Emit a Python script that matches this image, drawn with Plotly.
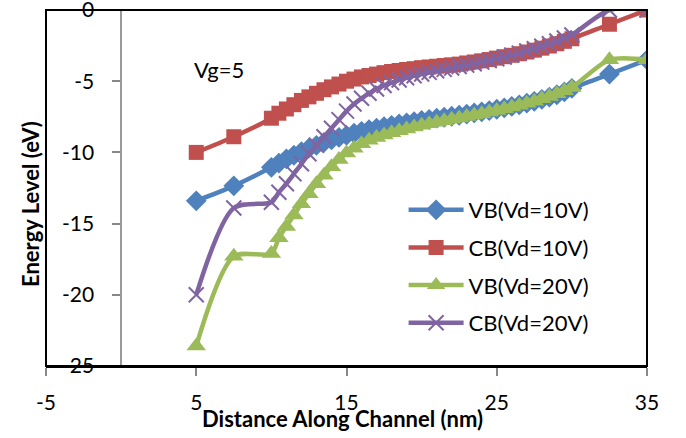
import plotly.graph_objects as go

x_vals = [5, 7.5, 10] + [10.5 + 0.5 * i for i in range(40)] + [32.5, 35]

vb_10 = [-13.4, -12.35, -11.05,
         -10.75, -10.45, -10.2, -9.95, -9.7, -9.5, -9.3, -9.12, -8.95, -8.8,
         -8.65, -8.52, -8.4, -8.3, -8.2, -8.1, -8.0, -7.92, -7.84, -7.76,
         -7.68, -7.6, -7.53, -7.46, -7.39, -7.31, -7.23, -7.15, -7.06, -6.97,
         -6.87, -6.77, -6.66, -6.54, -6.41, -6.27, -6.12, -5.95, -5.75, -5.5,
         -4.5, -3.5]
cb_10 = [-10.0, -8.9, -7.6,
         -7.25, -6.95, -6.65, -6.35, -6.1, -5.85, -5.6, -5.4, -5.2, -5.0,
         -4.85, -4.7, -4.6, -4.5, -4.4, -4.32, -4.25, -4.18, -4.12, -4.05,
         -4.0, -3.95, -3.9, -3.85, -3.8, -3.72, -3.65, -3.57, -3.48, -3.38,
         -3.28, -3.18, -3.07, -2.95, -2.82, -2.68, -2.53, -2.37, -2.2, -2.02,
         -1.0, 0.0]
vb_20 = [-23.6, -17.3, -17.1,
         -16.0, -15.2, -14.4, -13.6, -12.9, -12.2, -11.6, -11.0, -10.5, -10.05,
         -9.7, -9.4, -9.15, -8.95, -8.78, -8.62, -8.48, -8.35, -8.22, -8.1,
         -7.99, -7.88, -7.78, -7.68, -7.58, -7.48, -7.38, -7.28, -7.17, -7.06,
         -6.94, -6.82, -6.69, -6.55, -6.4, -6.24, -6.07, -5.88, -5.67, -5.45,
         -3.5, -3.5]
cb_20 = [-20.0, -13.9, -13.5,
         -12.8, -12.2, -11.5, -10.8, -10.1, -9.5, -8.9, -8.3, -7.7, -7.1,
         -6.6, -6.2, -5.85, -5.55, -5.3, -5.1, -4.92, -4.76, -4.62, -4.5,
         -4.38, -4.27, -4.17, -4.07, -3.97, -3.87, -3.77, -3.66, -3.55, -3.43,
         -3.3, -3.17, -3.03, -2.88, -2.72, -2.55, -2.37, -2.18, -1.97, -1.75,
         0.0, 0.0]

series_names = ["VB(Vd=10V)", "CB(Vd=10V)", "VB(Vd=20V)", "CB(Vd=20V)"]
x_ticks = [-5, 5, 15, 25, 35]
x_tick_labels = ["-5", "5", "15", "25", "35"]
y_ticks = [0, -5, -10, -15, -20, -25]
y_tick_labels = ["0", "-5", "-10", "-15", "-20", "-25"]

FONT = "Lato, 'Open Sans', sans-serif"

styles = [
    dict(color="#4F81BD", symbol="diamond", size=16),
    dict(color="#C0504D", symbol="square", size=15),
    dict(color="#9BBB59", symbol="triangle-up", size=17),
    dict(color="#8064A2", symbol="x-thin", size=15),
]

fig = go.Figure()
for i, (name, ys) in enumerate(zip(series_names, [vb_10, cb_10, vb_20, cb_20])):
    st = styles[i]
    marker = dict(symbol=st["symbol"], size=st["size"], color=st["color"],
                  line=dict(width=2 if st["symbol"] == "x-thin" else 0, color=st["color"]))
    fig.add_trace(go.Scatter(
        x=x_vals, y=ys, name=name, mode="lines+markers",
        line=dict(color=st["color"], width=4.5, shape="spline", smoothing=0.8),
        marker=marker, legendgroup=name,
    ))

fig.update_layout(
    width=686, height=438,
    margin=dict(l=46, r=39, t=10, b=72, autoexpand=False),
    paper_bgcolor="white", plot_bgcolor="white",
    font=dict(family=FONT, size=22, color="black"),
    showlegend=True,
    legend=dict(x=0.595, y=0.497, xanchor="left", yanchor="top",
                bgcolor="rgba(0,0,0,0)", font=dict(size=22, color="black"),
                traceorder="grouped", tracegroupgap=6, itemwidth=55),
    xaxis=dict(range=[-5, 35], tickvals=x_ticks, ticktext=x_tick_labels,
               showgrid=False, zeroline=False, automargin=False,
               showline=True, linecolor="black", linewidth=2,
               ticks="outside", ticklen=8, tickcolor="#888", tickwidth=1.5,
               ticklabelstandoff=9, ticklabeloverflow="allow", tickfont=dict(size=21)),
    yaxis=dict(range=[-25, 0], tickvals=y_ticks, ticktext=y_tick_labels,
               showgrid=False, zeroline=False,
               anchor="free", position=0.125, automargin=False,
               showline=True, linecolor="#999", linewidth=1.5,
               ticks="outside", ticklen=8, tickcolor="#888", tickwidth=1.5,
               ticklabelstandoff=14, ticklabeloverflow="allow", tickfont=dict(size=21)),
    shapes=[dict(type="rect", xref="paper", yref="paper", x0=0, x1=1, y0=0, y1=1,
                 line=dict(color="black", width=2), fillcolor="rgba(0,0,0,0)",
                 layer="above")],
    annotations=[
        dict(text="Vg=5", x=4.7, y=-4.16, xref="x", yref="y", xanchor="left",
             showarrow=False, font=dict(size=22)),
        dict(text="<b>Distance Along Channel (nm)</b>", x=0.5, y=0, xref="paper",
             yref="paper", yanchor="middle", yshift=-52, xshift=-4,
             showarrow=False, font=dict(size=22)),
        dict(text="<b>Energy Level (eV)</b>", x=0, y=0.5, xref="paper", yref="paper",
             xanchor="center", yanchor="middle", xshift=-16, yshift=-16,
             showarrow=False, textangle=-90, font=dict(size=22)),
    ],
)

fig.write_html("out.html", config={"displayModeBar": False},
               post_script="document.body.style.margin='0';")
